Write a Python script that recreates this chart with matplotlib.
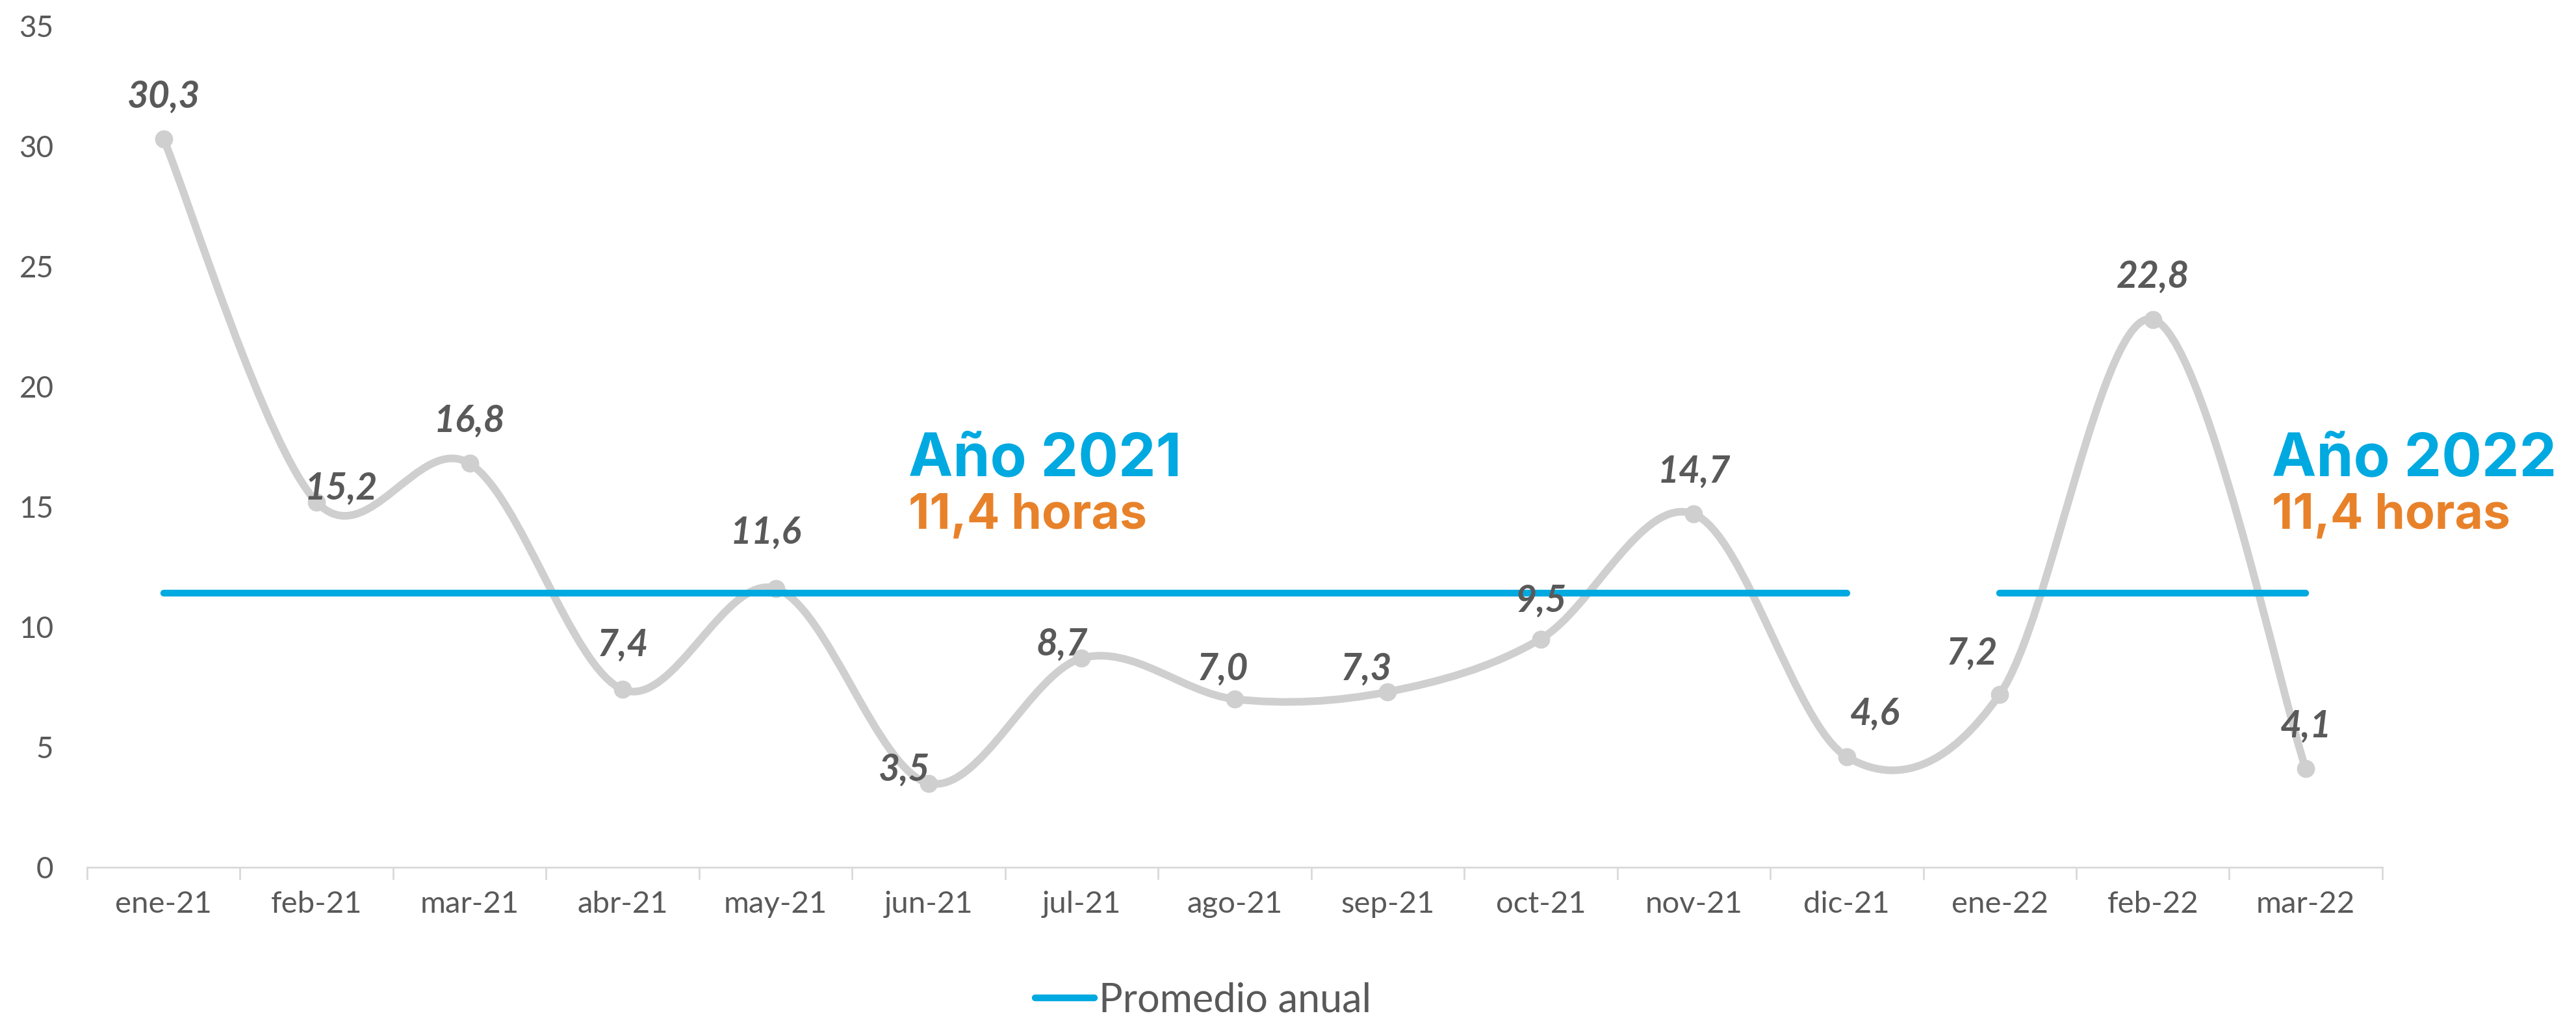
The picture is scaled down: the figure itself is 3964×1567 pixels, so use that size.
import matplotlib
matplotlib.use('Agg')
import matplotlib.pyplot as plt
from matplotlib.path import Path
from matplotlib.patches import PathPatch
from matplotlib.lines import Line2D

months = ['ene-21', 'feb-21', 'mar-21', 'abr-21', 'may-21', 'jun-21', 'jul-21',
          'ago-21', 'sep-21', 'oct-21', 'nov-21', 'dic-21', 'ene-22', 'feb-22', 'mar-22']
horas = [30.3, 15.2, 16.8, 7.4, 11.6, 3.5, 8.7, 7.0, 7.3, 9.5, 14.7, 4.6, 7.2, 22.8, 4.1]
prom_2021 = 11.4
prom_2022 = 11.4
idx_2021 = (0, 11)
idx_2022 = (12, 14)

# label offsets in points (style only)
label_off = [(0, 47), (27, 15), (0, 47), (0, 49), (-11, 62), (-27, 15), (-22, 15),
             (-13, 33), (-24, 25), (0, 42), (0, 47), (31, 47), (-31, 45), (0, 47), (0, 47)]

GREY = '#D0CFCF'
BLUE = '#00A9E0'
ORANGE = '#E8822A'
TXT = '#595959'

plt.rcParams['font.family'] = ['Lato', 'DejaVu Sans']

fig = plt.figure(figsize=(39.64, 15.67), dpi=100)
ax = fig.add_axes([0.0338, 0.148, 0.891, 0.8264])

x = list(range(len(horas)))

# smoothed line (Excel style bezier through points)
verts = [(x[0], horas[0])]
codes = [Path.MOVETO]
n = len(horas)
for i in range(n - 1):
    p0 = (x[max(i - 1, 0)], horas[max(i - 1, 0)])
    p1 = (x[i], horas[i])
    p2 = (x[i + 1], horas[i + 1])
    p3 = (x[min(i + 2, n - 1)], horas[min(i + 2, n - 1)])
    c1 = (p1[0] + (p2[0] - p0[0]) / 6, p1[1] + (p2[1] - p0[1]) / 6)
    c2 = (p2[0] - (p3[0] - p1[0]) / 6, p2[1] - (p3[1] - p1[1]) / 6)
    verts += [c1, c2, p2]
    codes += [Path.CURVE4] * 3
ax.add_patch(PathPatch(Path(verts, codes), facecolor='none', edgecolor=GREY,
                       lw=8.5, capstyle='round', joinstyle='round', zorder=2))
ax.plot(x, horas, 'o', ms=19, color=GREY, zorder=2)

# promedio anual
ax.plot(idx_2021, [prom_2021, prom_2021], color=BLUE, lw=7.5,
        solid_capstyle='round', zorder=3)
ax.plot(idx_2022, [prom_2022, prom_2022], color=BLUE, lw=7.5,
        solid_capstyle='round', zorder=3)

for xi, v, off in zip(x, horas, label_off):
    ax.annotate(f'{v:.1f}'.replace('.', ','), (xi, v), xytext=off,
                textcoords='offset points', ha='center', va='center',
                fontsize=41, fontweight='bold', fontstyle='italic',
                color=TXT, zorder=4)

# year annotations
big = dict(color=BLUE, fontsize=66, fontweight='bold',
           family=['Inter', 'DejaVu Sans'], ha='left', va='baseline', clip_on=False)
small = dict(color=ORANGE, fontsize=54, fontweight='bold',
             family=['Inter', 'DejaVu Sans'], ha='left', va='baseline', clip_on=False)
ax.text(4.87, 16.3, 'Año 2021', **big)
ax.text(4.87, 14.08, f'{prom_2021:.1f} horas'.replace('.', ','), **small)
ax.text(13.78, 16.3, 'Año 2022', **big)
ax.text(13.78, 14.08, f'{prom_2022:.1f} horas'.replace('.', ','), **small)

ax.set_xlim(-0.5, len(horas) - 0.5)
ax.set_ylim(0, 35)
ax.set_yticks(range(0, 36, 5))
ax.tick_params(axis='y', length=0, pad=37, labelsize=33, labelcolor=TXT)

ax.set_xticks([i - 0.5 for i in range(len(horas) + 1)])
ax.set_xticklabels([])
ax.set_xticks(x, minor=True)
ax.set_xticklabels(months, minor=True)
ax.tick_params(axis='x', which='major', length=14, width=2, color='#D9D9D9')
ax.tick_params(axis='x', which='minor', length=0, pad=26, labelsize=34, labelcolor=TXT)

for s in ['top', 'right', 'left']:
    ax.spines[s].set_visible(False)
ax.spines['bottom'].set_color('#D9D9D9')
ax.spines['bottom'].set_linewidth(2)

handle = Line2D([], [], color=BLUE, lw=7.5, solid_capstyle='round')
fig.legend([handle], ['Promedio anual'], loc='center', bbox_to_anchor=(0.467, 0.017),
           frameon=False, fontsize=44, handlelength=1.5, handletextpad=0.1,
           labelcolor=TXT)

fig.savefig('out.png', dpi=100, facecolor='white')
